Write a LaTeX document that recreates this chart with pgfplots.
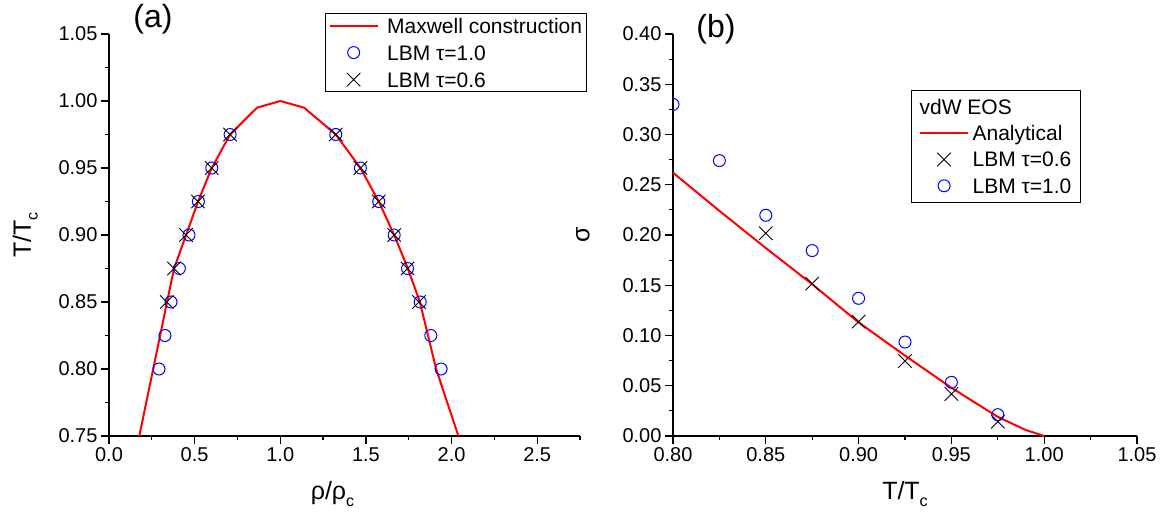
\documentclass[border=0pt]{standalone}
\usepackage{fontspec}
\setmainfont{Liberation Sans}
\usepackage{pgfplots}
\pgfplotsset{compat=1.18}

\newcommand{\sub}[1]{\raisebox{-0.5ex}{\fontsize{16}{16}\selectfont #1}}

\pgfplotsset{
  panel/.style={
    scale only axis, height=402pt,
    axis lines=left, axis line style={-, line width=1.5pt},
    tick align=outside, major tick length=8pt, minor tick length=4pt,
    every tick/.style={black, line width=1.2pt},
    tick label style={font=\fontsize{20}{22}\selectfont},
    label style={font=\fontsize{25}{28}\selectfont},
    xlabel style={yshift=-13pt},
    /pgf/number format/fixed, /pgf/number format/fixed zerofill,
    /pgf/number format/precision=2, /pgf/number format/assume math mode=true,
    legend style={font=\fontsize{21}{24}\selectfont, draw=black, line width=1pt,
      nodes={inner xsep=1.5pt, inner ysep=1.5pt, text height=17.5pt, text depth=2.5pt}},
    legend cell align=left,
  },
  img/.style={legend image code/.code={
    \draw[mark repeat=2,mark phase=2,##1] plot coordinates {(0pt,0pt) (24pt,0pt) (48pt,0pt)};
    \path (#1,0pt);}},
  curve/.style={red, line width=2pt, no marks},
  circ/.style={only marks, mark=o, mark size=6pt, blue, line width=1pt},
  cross/.style={only marks, mark=x, mark size=9.5pt, black, line width=0.9pt},
}

\begin{document}
\begin{tikzpicture}
\useasboundingbox (0pt,0pt) rectangle (1171pt,517pt);

\begin{axis}[panel, img=55pt, name=A, at={(109pt,81pt)}, anchor=south west, width=471pt,
  xmin=0, xmax=2.75, ymin=0.75, ymax=1.05,
  xtick={0,0.5,1,1.5,2,2.5}, minor xtick={0.25,0.75,1.25,1.75,2.25,2.75},
  ytick={0.75,0.8,0.85,0.9,0.95,1,1.05},
  minor ytick={0.775,0.825,0.875,0.925,0.975,1.025},
  xticklabel style={/pgf/number format/precision=1},
  xlabel={ρ/ρ\sub{c}}, ylabel={T/T\sub{c}},
  xlabel style={xshift=-12pt}, ylabel style={yshift=14pt},
  legend style={at={(1.015,1.052)}, anchor=north east,
    inner xsep=3pt, inner ysep=0.5pt, row sep=4pt}]
\addplot[curve] coordinates {
(0.177,0.75) (0.258,0.80) (0.339,0.85) (0.380,0.875) (0.450,0.90) (0.520,0.925)
(0.600,0.95) (0.707,0.975) (0.864,0.995) (1.000,1.000) (1.139,0.995) (1.324,0.975)
(1.468,0.95) (1.575,0.925) (1.665,0.90) (1.745,0.875) (1.815,0.85) (1.910,0.80) (2.040,0.75)};
\addlegendentry{Maxwell construction}
\addplot[circ] coordinates {
(0.292,0.80) (0.327,0.825) (0.362,0.85) (0.411,0.875) (0.467,0.90) (0.522,0.925)
(0.600,0.95) (0.707,0.975) (1.324,0.975) (1.468,0.95) (1.575,0.925) (1.665,0.90)
(1.743,0.875) (1.817,0.85) (1.879,0.825) (1.939,0.80)};
\addlegendentry{LBM τ=1.0}
\addplot[cross] coordinates {
(0.337,0.85) (0.380,0.875) (0.450,0.90) (0.520,0.925) (0.600,0.95) (0.707,0.975)
(1.324,0.975) (1.468,0.95) (1.575,0.925) (1.665,0.90) (1.743,0.875) (1.810,0.85)};
\addlegendentry{LBM τ=0.6}
\end{axis}

\begin{axis}[panel, img=50pt, name=B, at={(673pt,81pt)}, anchor=south west, width=464pt,
  xmin=0.8, xmax=1.05, ymin=0, ymax=0.4,
  xtick={0.8,0.85,0.9,0.95,1,1.05}, minor xtick={0.825,0.875,0.925,0.975,1.025},
  ytick={0,0.05,0.1,0.15,0.2,0.25,0.3,0.35,0.4},
  minor ytick={0.025,0.075,0.125,0.175,0.225,0.275,0.325,0.375},
  clip marker paths=true,
  xlabel={T/T\sub{c}}, ylabel={σ}, ylabel style={yshift=26pt},
  legend style={at={(0.879,0.861)}, anchor=north east,
    inner xsep=7.5pt, inner ysep=5pt, row sep=3.3pt}]
\addlegendimage{empty legend}
\addlegendentry{\hspace*{-53pt}vdW EOS}
\addplot[curve] coordinates {
(0.80,0.262) (0.825,0.224) (0.85,0.187) (0.875,0.151) (0.90,0.113) (0.925,0.080)
(0.95,0.048) (0.975,0.019) (0.99,0.006) (1.00,0.000)};
\addlegendentry{Analytical}
\addplot[cross] coordinates {
(0.85,0.2017) (0.875,0.1516) (0.90,0.1138) (0.925,0.0746) (0.95,0.0418) (0.975,0.0143)};
\addlegendentry{LBM τ=0.6}
\addplot[circ] coordinates {
(0.80,0.330) (0.825,0.274) (0.85,0.2196) (0.875,0.1845) (0.90,0.137) (0.925,0.0935)
(0.95,0.0534) (0.975,0.0212)};
\addlegendentry{LBM τ=1.0}
\end{axis}

\node[font=\fontsize{32}{34}\selectfont] at ([shift={(44pt,15pt)}]A.north west) {(a)};
\node[font=\fontsize{32}{34}\selectfont] at ([shift={(43pt,5pt)}]B.north west) {(b)};
\end{tikzpicture}
\end{document}
